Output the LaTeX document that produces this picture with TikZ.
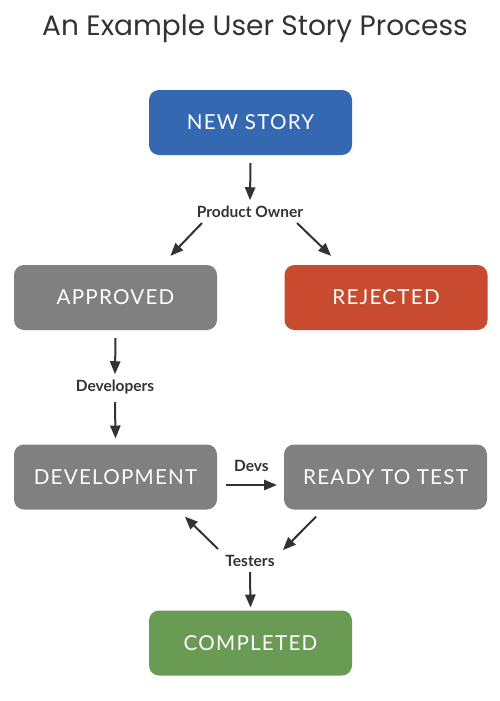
\documentclass[tikz,border=0pt]{standalone}
\usepackage{fontspec}
\setmainfont{Lato}
\newfontfamily\titlefont{Poppins}
\newfontfamily\boxfont{Lato}[LetterSpace=6]
\usetikzlibrary{shapes,arrows}
\definecolor{storyblue}{RGB}{52,104,176}
\definecolor{stepgrey}{RGB}{128,128,128}
\definecolor{rejectred}{RGB}{200,75,48}
\definecolor{donegreen}{RGB}{106,155,84}
\definecolor{inkgrey}{RGB}{51,51,51}
\tikzstyle{block} = [rectangle, text=white, font=\boxfont\fontsize{20.6}{24}\selectfont,
    minimum width=203pt, minimum height=65pt, rounded corners=10pt, inner sep=0pt]
\tikzstyle{role} = [font=\bfseries\fontsize{15.5}{18}\selectfont, text=inkgrey, inner sep=0pt]
\tikzstyle{line} = [draw=inkgrey, line width=2pt, -triangle 45]

\begin{document}
\begin{tikzpicture}[x=1pt,y=-1pt]
      \useasboundingbox (0,0) rectangle (500,701);
      \node[text=inkgrey, font=\titlefont\fontsize{28}{32}\selectfont] (title) at (255,29) {An Example User Story Process};
      % boxes
      \node[block, fill=storyblue] (newstory) at (250.5,122.5) {NEW STORY};
      \node[block, fill=stepgrey] (approved) at (115.5,297.5) {APPROVED};
      \node[block, fill=rejectred] (rejected) at (386,297.5) {REJECTED};
      \node[block, fill=stepgrey] (development) at (115.5,477) {DEVELOPMENT};
      \node[block, fill=stepgrey] (ready) at (385.5,477) {READY TO TEST};
      \node[block, fill=donegreen] (completed) at (250.5,643) {COMPLETED};
      % who moves the story
      \node[role] (owner) at (250,212) {Product Owner};
      \node[role] (developers) at (115,387) {Developers};
      \node[role] (testers) at (250,561) {Testers};
      \draw[line] ([yshift=-8pt]newstory.south) -- ([yshift=12pt]owner.center);
      \draw[line] ([shift={(-48pt,-11pt)}]owner.center) -- ([shift={(55pt,9pt)}]approved.north);
      \draw[line] ([shift={(47pt,-11pt)}]owner.center) -- ([shift={(-55pt,9pt)}]rejected.north);
      \draw[line] ([yshift=-8pt]approved.south) -- ([yshift=13pt]developers.center);
      \draw[line] ([yshift=-15pt]developers.center) -- ([yshift=6pt]development.north);
      \draw[line] ([shift={(9pt,-8pt)}]development.east) -- node[role, above=12pt] (devs) {Devs} ([shift={(-7pt,-8pt)}]ready.west);
      \draw[line] ([shift={(-69.5pt,-7pt)}]ready.south) -- ([shift={(33pt,11pt)}]testers.center);
      \draw[line] ([shift={(-32pt,12pt)}]testers.center) -- ([shift={(69.5pt,-7pt)}]development.south);
      \draw[line] ([yshift=-11pt]testers.center) -- ([yshift=3pt]completed.north);
    \end{tikzpicture}
\end{document}
